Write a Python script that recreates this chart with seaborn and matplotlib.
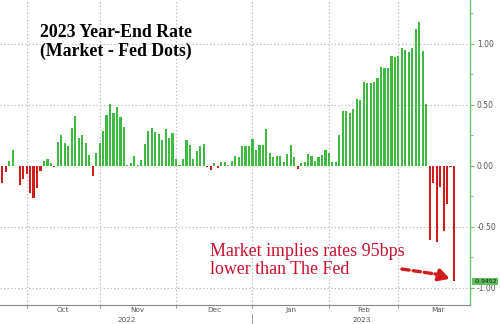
import numpy as np
import pandas as pd
import matplotlib
matplotlib.use("Agg")
import matplotlib.pyplot as plt
import matplotlib.transforms as mtransforms
from matplotlib.ticker import MultipleLocator, FixedLocator, FixedFormatter
import seaborn as sns

# ---- data ----
start_date = "2022-09-22"
values = [
    -0.14, -0.05, 0.04, 0.13, 0.00, -0.16, -0.11, -0.07, -0.22, -0.26,
    -0.18, -0.04, 0.04, 0.06, 0.02, -0.01, 0.20, 0.25, 0.19, 0.16,
    0.31, 0.41, 0.23, 0.25, 0.19, 0.09, -0.08, 0.11, 0.19, 0.29,
    0.42, 0.51, 0.43, 0.48, 0.40, 0.32, 0.01, 0.02, 0.08, 0.005,
    0.05, 0.18, 0.29, 0.31, 0.28, 0.26, 0.21, 0.30, 0.23, 0.27,
    0.06, 0.005, 0.06, 0.21, 0.17, 0.06, 0.12, 0.16, 0.18, -0.01,
    -0.03, 0.02, -0.015, 0.035, 0.035, 0.01, 0.04, 0.085, 0.07, 0.16,
    0.16, 0.16, 0.22, 0.13, 0.17, 0.17, 0.30, 0.11, 0.07, 0.085,
    0.085, 0.03, 0.10, 0.17, 0.07, -0.025, 0.02, 0.035, 0.10, 0.08,
    0.04, 0.07, 0.09, 0.13, 0.11, 0.03, 0.03, 0.25, 0.45, 0.45,
    0.43, 0.47, 0.55, 0.54, 0.69, 0.68, 0.68, 0.69, 0.72, 0.81,
    0.80, 0.80, 0.90, 0.89, 0.90, 0.97, 0.95, 0.93, 0.97, 1.12,
    1.18, 0.94, 0.51, -0.61, -0.14, -0.62, -0.17, -0.53, -0.31, -0.005,
    -0.9452,
]
month_labels = ["Oct", "Nov", "Dec", "Jan", "Feb", "Mar"]
year_labels = ["2022", "2023"]
title_text = "2023 Year-End Rate\n(Market - Fed Dots)"
note_text = "Market implies rates 95bps\nlower than The Fed"
last_label = "-0.9452"

GREEN = "#3fb93f"
RED = "#d01c1c"
NOTE_RED = "#c8102e"
AXIS_GREEN = "#6cc46c"
GREY = "#555555"

n = len(values)
dates = pd.bdate_range(start_date, periods=n)
df = pd.DataFrame({
    "idx": np.arange(n),
    "value": values,
    "sign": np.where(np.array(values) >= 0, "pos", "neg"),
})

# month starts (first business day of each month), incl. one beyond the data
full = pd.bdate_range(start_date, "2023-04-30")
mstarts = [i for i in range(1, len(full)) if full[i].month != full[i - 1].month]
grid_pos = [m for m in mstarts if m < n]
centers = [(mstarts[k] + mstarts[k + 1]) / 2 for k in range(len(month_labels))]
year_break = [m for m in mstarts if full[m].year == 2023][0]

sns.set_theme(style="white")
fig = plt.figure(figsize=(5.0, 3.24), dpi=100)
ax = fig.add_axes([0.0, 19 / 324, 470 / 500, 1 - 19 / 324])

sns.barplot(data=df, x="idx", y="value", hue="sign",
            palette={"pos": GREEN, "neg": RED}, dodge=False,
            width=0.62, legend=False, ax=ax, native_scale=True,
            linewidth=0, saturation=1)

xlim = (-0.66, 134.6)
ax.set_xlim(*xlim)
ax.set_ylim(-1.14, 1.36)

# grids
for g in grid_pos:
    ax.axvline(g, color="#b0b0b0", lw=0.8, ls=(0, (1, 2.2)), zorder=0)
for yv in [-1.0, -0.5, 0.5, 1.0]:
    ax.axhline(yv, color="#b0b0b0", lw=0.8, ls=(0, (1, 2.2)), zorder=0)

# spines
for s in ["left", "top"]:
    ax.spines[s].set_visible(False)
ax.spines["right"].set_color(AXIS_GREEN)
ax.spines["right"].set_linewidth(1.0)
ax.spines["bottom"].set_color("#888888")
ax.spines["bottom"].set_linewidth(0.8)

# y axis on the right
ax.yaxis.tick_right()
ax.yaxis.set_label_position("right")
ax.yaxis.set_major_locator(MultipleLocator(0.5))
ax.yaxis.set_minor_locator(MultipleLocator(0.25))
ax.yaxis.set_major_formatter(matplotlib.ticker.FormatStrFormatter("%.2f"))
ax.tick_params(axis="y", which="major", length=3, width=0.8, color=AXIS_GREEN,
               labelsize=5.5, labelcolor=GREY, pad=2, right=True, left=False)
ax.tick_params(axis="y", which="minor", length=2, width=0.6, color=AXIS_GREEN,
               right=True, left=False)
ax.set_ylabel("")
ax.set_xlabel("")

# x axis: labels centered in month, ticks at month starts
ax.xaxis.set_major_locator(FixedLocator(centers))
ax.xaxis.set_major_formatter(FixedFormatter(month_labels))
ax.xaxis.set_minor_locator(FixedLocator(grid_pos))
ax.tick_params(axis="x", which="major", length=0, labelsize=5.2,
               labelcolor=GREY, pad=1.5)
ax.tick_params(axis="x", which="minor", length=2.5, width=0.6,
               color="#888888", bottom=True)

trans = mtransforms.blended_transform_factory(ax.transData, ax.transAxes)
year_x = [(xlim[0] + year_break) / 2, (year_break + xlim[1]) / 2]
for yx, yl in zip(year_x, year_labels):
    ax.text(yx, -0.0505, yl, transform=trans, ha="center", va="center",
            fontsize=5.2, color=GREY, clip_on=False)
ax.plot([year_break, year_break], [-0.03, -0.075], transform=trans,
        color="#999999", lw=0.7, clip_on=False)

# title
fig.text(40 / 500, 1 - 24 / 324, title_text, ha="left", va="top",
         family="Liberation Serif", fontweight="bold", fontsize=12.8,
         color="black", linespacing=1.12)

# annotation text and arrow
ax.text(210 / 470, 1 - 243 / 305, note_text, transform=ax.transAxes,
        ha="left", va="top", family="Liberation Serif", fontsize=12.9,
        color=NOTE_RED, linespacing=1.05)
last_i = n - 1
last_v = values[-1]
tip = (last_i - 1.2, last_v + 0.02)
near = (last_i - 5.5, last_v + 0.06)
start = (last_i - 15.0, last_v + 0.10)
ax.annotate("", xy=near, xytext=start,
            arrowprops=dict(arrowstyle="-", color=RED, lw=2.4,
                            linestyle=(0, (2.2, 1.2)), shrinkA=0, shrinkB=0))
ax.annotate("", xy=tip, xytext=near,
            arrowprops=dict(arrowstyle="-|>,head_length=0.55,head_width=0.3",
                            color=RED, lw=2.4, shrinkA=0, shrinkB=0))

# last value tag
tag_trans = mtransforms.blended_transform_factory(ax.transAxes, ax.transData)
ax.text(1.007, last_v, last_label, transform=tag_trans, ha="left",
        va="center", fontsize=4.4, color="#1a1a1a", clip_on=False,
        bbox=dict(boxstyle="square,pad=0.15", fc="#5cc05c", ec="none"))

fig.savefig("out.png", dpi=100)
